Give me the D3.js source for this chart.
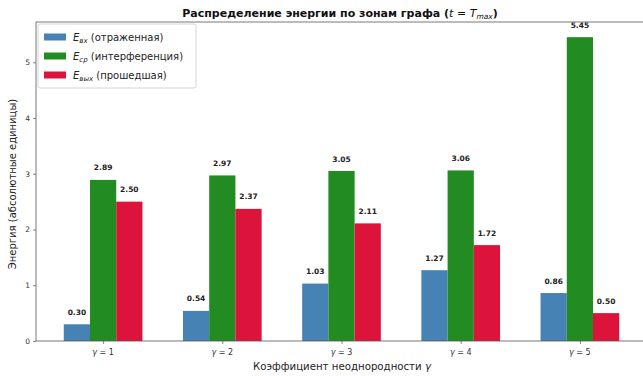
<!DOCTYPE html>
<html><head><meta charset="utf-8">
<script src="https://cdn.jsdelivr.net/npm/d3@7"></script>
<style>
body{margin:0;background:#fff;}
text{font-family:"DejaVu Sans",sans-serif;}
</style></head>
<body><svg id="c" width="643" height="376"></svg>
<script>
const categories = ["1","2","3","4","5"];
const seriesNames = ["(отраженная)","(интерференция)","(прошедшая)"];
const seriesSubs = ["вх","ср","вых"];
const colors = ["#4682B4","#228B22","#DC143C"];
const reflected = [0.30, 0.54, 1.03, 1.27, 0.86];
const interference = [2.89, 2.97, 3.05, 3.06, 5.45];
const transmitted = [2.50, 2.37, 2.11, 1.72, 0.50];
const yTicks = [0,1,2,3,4,5];
const series = [reflected, interference, transmitted];

const svg = d3.select("#c");
const W = 0.22;
const pL = 36, pR = 647, pT = 22, pB = 341;
const x = d3.scaleLinear().domain([-1.5*W - 0.05*(4+3*W), 4 + 1.5*W + 0.05*(4+3*W)]).range([pL, pR]);
const ymax = d3.max(interference) * 1.05;
const y = d3.scaleLinear().domain([0, ymax]).range([pB, pT]);

// bars
series.forEach((vals, si) => {
  const g = svg.append("g");
  g.selectAll("rect").data(vals).enter().append("rect")
    .attr("x", (d,i) => x(i + (si-1)*W - W/2))
    .attr("width", x(W) - x(0))
    .attr("y", d => y(d))
    .attr("height", d => y(0) - y(d))
    .attr("fill", colors[si]);
  g.selectAll("text").data(vals).enter().append("text")
    .attr("x", (d,i) => x(i + (si-1)*W))
    .attr("y", d => y(d + 0.17))
    .attr("text-anchor","middle")
    .attr("font-size", 7.5)
    .attr("font-weight","bold")
    .attr("fill","#222")
    .text(d => d.toFixed(2));
});

// axes
const yAxis = d3.axisLeft(y).tickValues(yTicks).tickSize(3).tickFormat(d3.format("d"));
const ya = svg.append("g").attr("transform", `translate(${pL},0)`).call(yAxis);
ya.selectAll("text").attr("font-size", 7.5).attr("fill","#333");
ya.select(".domain").remove();
const xa = svg.append("g").attr("transform", `translate(0,${pB})`)
  .call(d3.axisBottom(x).tickValues([0,1,2,3,4]).tickSize(3).tickFormat(""));
xa.select(".domain").remove();
svg.selectAll(".tick line").attr("stroke","#555").attr("stroke-width",0.7);

// x tick labels
const xl = svg.append("g");
categories.forEach((c,i) => {
  const t = xl.append("text").attr("x", x(i)).attr("y", 355).attr("text-anchor","middle")
    .attr("font-size", 8).attr("fill","#333");
  t.append("tspan").attr("font-style","italic").text("γ");
  t.append("tspan").text(" = " + c);
});

// spines
svg.append("line").attr("x1",pL).attr("x2",pL).attr("y1",pT).attr("y2",pB).attr("stroke","#555").attr("stroke-width",0.8);
svg.append("line").attr("x1",pL).attr("x2",pR).attr("y1",pB).attr("y2",pB).attr("stroke","#555").attr("stroke-width",0.8);
svg.append("line").attr("x1",pL).attr("x2",pR).attr("y1",pT).attr("y2",pT).attr("stroke","#555").attr("stroke-width",0.8);

// title
const tt = svg.append("text").attr("x", 340).attr("y", 17).attr("text-anchor","middle")
  .attr("font-size", 11).attr("font-weight","bold").attr("fill","#111");
tt.append("tspan").text("Распределение энергии по зонам графа (");
tt.append("tspan").attr("font-style","italic").attr("font-weight","normal").text("t");
tt.append("tspan").attr("font-weight","normal").text(" = ");
tt.append("tspan").attr("font-style","italic").attr("font-weight","normal").text("T");
tt.append("tspan").attr("font-style","italic").attr("font-weight","normal").attr("font-size",7.5).attr("dy",2).text("max");
tt.append("tspan").attr("dy",-2).text(")");

// axis labels
const xlab = svg.append("text").attr("x", 342).attr("y", 370).attr("text-anchor","middle")
  .attr("font-size", 10.2).attr("fill","#222");
xlab.append("tspan").text("Коэффициент неоднородности ");
xlab.append("tspan").attr("font-style","italic").text("γ");
svg.append("text").attr("transform","translate(16,184) rotate(-90)").attr("text-anchor","middle")
  .attr("font-size", 10).attr("fill","#222").text("Энергия (абсолютные единицы)");

// legend
const lg = svg.append("g");
lg.append("rect").attr("x",38).attr("y",24).attr("width",158).attr("height",64).attr("rx",2)
  .attr("fill","#fff").attr("fill-opacity",0.8).attr("stroke","#ccc").attr("stroke-width",0.8);
seriesNames.forEach((n,i) => {
  const yy = 37 + i*19;
  lg.append("rect").attr("x",44).attr("y",yy-3.5).attr("width",22).attr("height",7).attr("fill",colors[i]);
  const t = lg.append("text").attr("x",73).attr("y",yy+3.5).attr("font-size",10).attr("fill","#222");
  t.append("tspan").attr("font-style","italic").text("E");
  t.append("tspan").attr("font-style","italic").attr("font-size",7).attr("dy",2).text(seriesSubs[i]);
  t.append("tspan").attr("dy",-2).text(" " + n);
});
</script></body></html>
